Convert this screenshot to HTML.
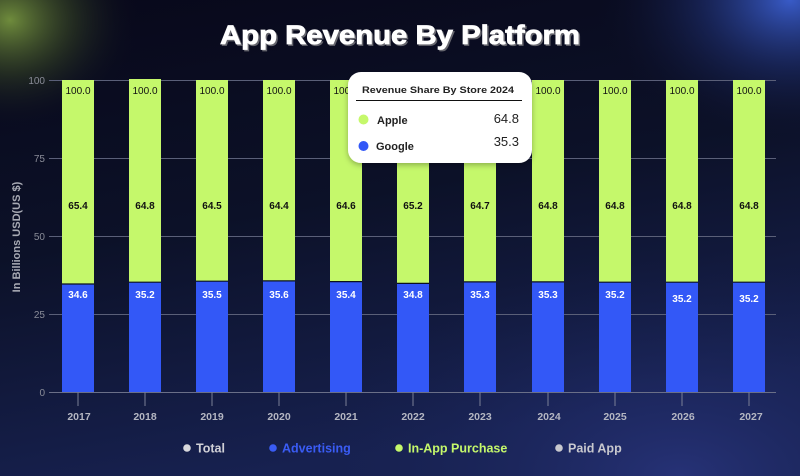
<!DOCTYPE html>
<html><head><meta charset="utf-8"><style>
html,body{margin:0;padding:0;width:800px;height:476px;overflow:hidden;background:#0a0b1e;}
svg{display:block;font-family:"Liberation Sans",sans-serif;}
</style></head><body>
<svg width="800" height="476" viewBox="0 0 800 476" xmlns="http://www.w3.org/2000/svg">
<defs>
<linearGradient id="base" x1="0" y1="0" x2="0.3" y2="1">
<stop offset="0" stop-color="#08081a"/>
<stop offset="0.5" stop-color="#0c1128"/>
<stop offset="1" stop-color="#172150"/>
</linearGradient>
<radialGradient id="gTL" cx="0" cy="0" r="1" gradientUnits="userSpaceOnUse" gradientTransform="translate(10,20) scale(130,110)">
<stop offset="0" stop-color="#7a9a40" stop-opacity="0.9"/>
<stop offset="0.5" stop-color="#3a4a25" stop-opacity="0.5"/>
<stop offset="1" stop-color="#0a0b1e" stop-opacity="0"/>
</radialGradient>
<radialGradient id="gTR" cx="0" cy="0" r="1" gradientUnits="userSpaceOnUse" gradientTransform="translate(790,0) scale(200,150)">
<stop offset="0" stop-color="#3b5fd0" stop-opacity="0.95"/>
<stop offset="0.45" stop-color="#22357e" stop-opacity="0.5"/>
<stop offset="1" stop-color="#0a0b1e" stop-opacity="0"/>
</radialGradient>
<radialGradient id="gBR" cx="0" cy="0" r="1" gradientUnits="userSpaceOnUse" gradientTransform="translate(680,476) scale(380,220)">
<stop offset="0" stop-color="#2a3680" stop-opacity="0.8"/>
<stop offset="1" stop-color="#172150" stop-opacity="0"/>
</radialGradient>
<filter id="sh" x="-20%" y="-20%" width="140%" height="140%"><feDropShadow dx="0" dy="2" stdDeviation="3" flood-color="#000" flood-opacity="0.3"/></filter>
</defs>
<rect width="800" height="476" fill="url(#base)"/>
<rect width="800" height="476" fill="url(#gBR)"/>
<rect width="800" height="476" fill="url(#gTL)"/>
<rect width="800" height="476" fill="url(#gTR)"/>

<!-- title -->
<text x="401.5" y="45.5" text-anchor="middle" font-size="27" font-weight="bold" fill="#66666e" stroke="#66666e" stroke-width="0.8" textLength="360" lengthAdjust="spacingAndGlyphs">App Revenue By Platform</text>
<text x="400" y="44" text-anchor="middle" font-size="27" font-weight="bold" fill="#ffffff" stroke="#ffffff" stroke-width="0.8" textLength="360" lengthAdjust="spacingAndGlyphs">App Revenue By Platform</text>

<!-- grid -->
<g stroke="#5a5f78" stroke-width="1">
<line x1="49" y1="80.5" x2="776" y2="80.5"/>
<line x1="49" y1="158.5" x2="776" y2="158.5"/>
<line x1="49" y1="236.5" x2="776" y2="236.5"/>
<line x1="49" y1="314.5" x2="776" y2="314.5"/>
</g>
<line x1="49" y1="392.5" x2="776" y2="392.5" stroke="#6a6f88" stroke-width="1"/>
<g font-size="10" fill="#8a8c98" text-anchor="end">
<text x="45" y="84">100</text>
<text x="45" y="162">75</text>
<text x="45" y="240">50</text>
<text x="45" y="318">25</text>
<text x="45" y="396">0</text>
</g>
<text transform="translate(20,237) rotate(-90)" text-anchor="middle" font-size="11" font-weight="bold" fill="#a8aab4">In Billions USD(US $)</text>

<!-- bars -->
<g id="bars">
<rect x="62" y="80" width="32" height="204" fill="#c5f86b"/>
<rect x="62" y="284" width="32" height="108" fill="#3358f7"/>
<line x1="62" y1="284" x2="94" y2="284" stroke="#0b1020" stroke-width="1.2"/>
<rect x="129" y="79" width="32" height="203" fill="#c5f86b"/>
<rect x="129" y="282.2" width="32" height="109.8" fill="#3358f7"/>
<line x1="129" y1="282.2" x2="161" y2="282.2" stroke="#0b1020" stroke-width="1.2"/>
<rect x="196" y="80" width="32" height="201" fill="#c5f86b"/>
<rect x="196" y="281.2" width="32" height="110.8" fill="#3358f7"/>
<line x1="196" y1="281.2" x2="228" y2="281.2" stroke="#0b1020" stroke-width="1.2"/>
<rect x="263" y="80" width="32" height="201" fill="#c5f86b"/>
<rect x="263" y="280.9" width="32" height="111.1" fill="#3358f7"/>
<line x1="263" y1="280.9" x2="295" y2="280.9" stroke="#0b1020" stroke-width="1.2"/>
<rect x="330" y="80" width="32" height="201" fill="#c5f86b"/>
<rect x="330" y="281.6" width="32" height="110.4" fill="#3358f7"/>
<line x1="330" y1="281.6" x2="362" y2="281.6" stroke="#0b1020" stroke-width="1.2"/>
<rect x="397" y="80" width="32" height="203" fill="#c5f86b"/>
<rect x="397" y="283.4" width="32" height="108.6" fill="#3358f7"/>
<line x1="397" y1="283.4" x2="429" y2="283.4" stroke="#0b1020" stroke-width="1.2"/>
<rect x="464" y="80" width="32" height="202" fill="#c5f86b"/>
<rect x="464" y="281.9" width="32" height="110.1" fill="#3358f7"/>
<line x1="464" y1="281.9" x2="496" y2="281.9" stroke="#0b1020" stroke-width="1.2"/>
<rect x="532" y="80" width="32" height="202" fill="#c5f86b"/>
<rect x="532" y="281.9" width="32" height="110.1" fill="#3358f7"/>
<line x1="532" y1="281.9" x2="564" y2="281.9" stroke="#0b1020" stroke-width="1.2"/>
<rect x="599" y="80" width="32" height="202" fill="#c5f86b"/>
<rect x="599" y="282.2" width="32" height="109.8" fill="#3358f7"/>
<line x1="599" y1="282.2" x2="631" y2="282.2" stroke="#0b1020" stroke-width="1.2"/>
<rect x="666" y="80" width="32" height="202" fill="#c5f86b"/>
<rect x="666" y="282.2" width="32" height="109.8" fill="#3358f7"/>
<line x1="666" y1="282.2" x2="698" y2="282.2" stroke="#0b1020" stroke-width="1.2"/>
<rect x="733" y="80" width="32" height="202" fill="#c5f86b"/>
<rect x="733" y="282.2" width="32" height="109.8" fill="#3358f7"/>
<line x1="733" y1="282.2" x2="765" y2="282.2" stroke="#0b1020" stroke-width="1.2"/>
</g>

<!-- x ticks -->
<g stroke="#7a7f96" stroke-width="1">
<line x1="78" y1="392" x2="78" y2="406"/>
<line x1="145" y1="392" x2="145" y2="406"/>
<line x1="212" y1="392" x2="212" y2="406"/>
<line x1="279" y1="392" x2="279" y2="406"/>
<line x1="346" y1="392" x2="346" y2="406"/>
<line x1="413" y1="392" x2="413" y2="406"/>
<line x1="480" y1="392" x2="480" y2="406"/>
<line x1="548" y1="392" x2="548" y2="406"/>
<line x1="615" y1="392" x2="615" y2="406"/>
<line x1="682" y1="392" x2="682" y2="406"/>
<line x1="749" y1="392" x2="749" y2="406"/>
</g>
<g font-size="10.5" font-weight="bold" fill="#b4b6c2" text-anchor="middle">
<text x="79" y="420">2017</text>
<text x="145" y="420">2018</text>
<text x="212" y="420">2019</text>
<text x="279" y="420">2020</text>
<text x="346" y="420">2021</text>
<text x="413" y="420">2022</text>
<text x="480" y="420">2023</text>
<text x="549" y="420">2024</text>
<text x="615" y="420">2025</text>
<text x="683" y="420">2026</text>
<text x="751" y="420">2027</text>
</g>

<!-- value labels -->
<g font-size="10" fill="#111" text-anchor="middle">
<text x="78" y="94">100.0</text>
<text x="145" y="94">100.0</text>
<text x="212" y="94">100.0</text>
<text x="279" y="94">100.0</text>
<text x="346" y="94">100.0</text>
<text x="548" y="94">100.0</text>
<text x="615" y="94">100.0</text>
<text x="682" y="94">100.0</text>
<text x="749" y="94">100.0</text>
</g>
<g font-size="10" font-weight="bold" fill="#111" text-anchor="middle">
<text x="78" y="209">65.4</text>
<text x="145" y="209">64.8</text>
<text x="212" y="209">64.5</text>
<text x="279" y="209">64.4</text>
<text x="346" y="209">64.6</text>
<text x="413" y="209">65.2</text>
<text x="480" y="209">64.7</text>
<text x="548" y="209">64.8</text>
<text x="615" y="209">64.8</text>
<text x="682" y="209">64.8</text>
<text x="749" y="209">64.8</text>
</g>
<g font-size="10" font-weight="bold" fill="#ffffff" text-anchor="middle">
<text x="78" y="298">34.6</text>
<text x="145" y="298">35.2</text>
<text x="212" y="298">35.5</text>
<text x="279" y="298">35.6</text>
<text x="346" y="298">35.4</text>
<text x="413" y="298">34.8</text>
<text x="480" y="298">35.3</text>
<text x="548" y="298">35.3</text>
<text x="615" y="298">35.2</text>
<text x="682" y="302">35.2</text>
<text x="749" y="302">35.2</text>
</g>

<!-- tooltip -->
<rect x="348" y="72" width="184" height="91" rx="13" fill="#ffffff" filter="url(#sh)"/>
<text x="362" y="93" font-size="9.5" font-weight="bold" fill="#222" textLength="152" lengthAdjust="spacingAndGlyphs">Revenue Share By Store 2024</text>
<line x1="356" y1="100.5" x2="522" y2="100.5" stroke="#111" stroke-width="1"/>
<circle cx="363.5" cy="119.5" r="5" fill="#c5f86b"/>
<text x="377" y="124" font-size="11" font-weight="bold" fill="#222">Apple</text>
<text x="519" y="123" font-size="13" fill="#222" text-anchor="end">64.8</text>
<circle cx="363.5" cy="146" r="5" fill="#3358f7"/>
<text x="376" y="150" font-size="11" font-weight="bold" fill="#222">Google</text>
<text x="519" y="146" font-size="13" fill="#222" text-anchor="end">35.3</text>

<!-- legend -->
<g font-size="12.5" font-weight="bold">
<circle cx="187" cy="448" r="3.8" fill="#d8d8dc"/>
<text x="196" y="452.5" fill="#d0d0d6">Total</text>
<circle cx="273" cy="448" r="3.8" fill="#3a5cf5"/>
<text x="282" y="452.5" fill="#3a5cf5">Advertising</text>
<circle cx="399" cy="448" r="3.8" fill="#c5f86b"/>
<text x="408" y="452.5" fill="#c5f86b">In-App Purchase</text>
<circle cx="559" cy="448" r="3.8" fill="#c8c8ce"/>
<text x="568" y="452.5" fill="#c8c8ce">Paid App</text>
</g>
</svg>
</body></html>
